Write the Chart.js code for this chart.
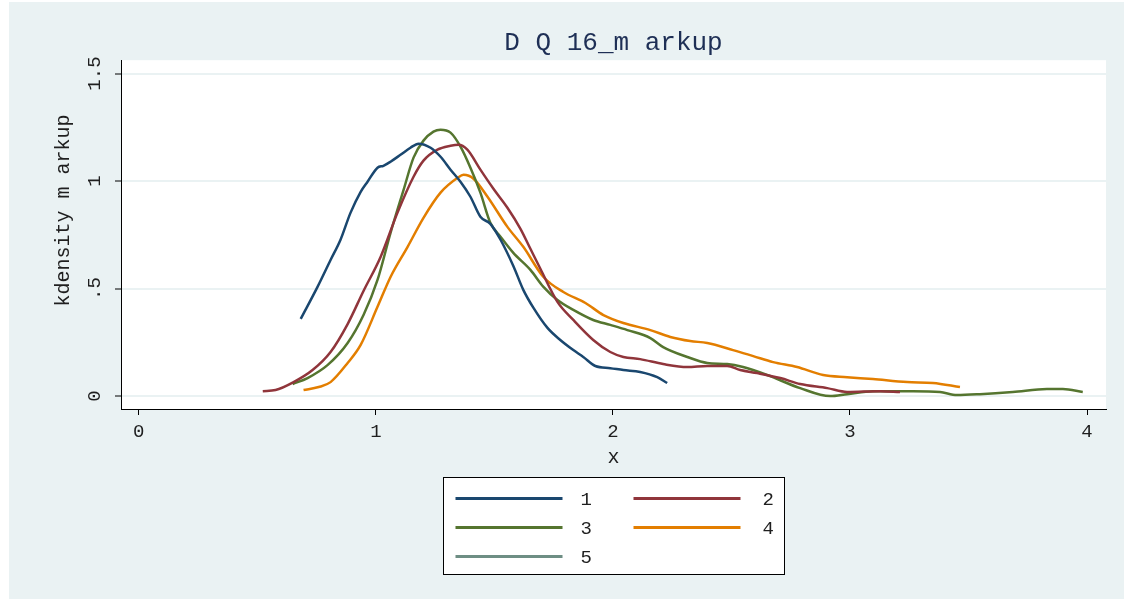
<!DOCTYPE html>
<html>
<head>
<meta charset="utf-8">
<title>kdensity markup</title>
<script src="https://cdn.jsdelivr.net/npm/chart.js@4.4.1/dist/chart.umd.min.js"></script>
<style>
  html, body { margin: 0; background: #fff; }
  #frame { position: absolute; left: 9px; top: 2px; width: 1115px; height: 597px; background: #eaf2f3; }
  canvas { display: block; }
</style>
</head>
<body>
<div id="frame"><canvas id="kdensityChart" width="1115" height="597"></canvas></div>
<script>
/*
  Kernel density of markup by group (1-5).
*/
const groupLabels = ["1", "2", "3", "4", "5"];
const groupColors = ["#1a476f", "#90353b", "#55752f", "#e37e00", "#6e8e84"];

const group1X = [0.683, 0.754, 0.809, 0.851, 0.893, 0.936, 0.965, 1.007, 1.032, 1.062, 1.104, 1.146, 1.180, 1.231, 1.273, 1.315, 1.357, 1.399, 1.441, 1.483, 1.526, 1.580, 1.622, 1.665, 1.724, 1.778, 1.833, 1.875, 1.926, 1.989, 2.044, 2.115, 2.187, 2.229];
const group1Y = [0.359, 0.508, 0.633, 0.727, 0.852, 0.950, 0.997, 1.062, 1.071, 1.090, 1.122, 1.155, 1.174, 1.155, 1.113, 1.053, 0.997, 0.927, 0.834, 0.801, 0.727, 0.605, 0.494, 0.410, 0.317, 0.261, 0.214, 0.182, 0.140, 0.130, 0.121, 0.112, 0.088, 0.061];

const group2X = [0.523, 0.577, 0.653, 0.733, 0.809, 0.881, 0.948, 1.020, 1.091, 1.159, 1.201, 1.260, 1.315, 1.349, 1.386, 1.441, 1.496, 1.555, 1.610, 1.652, 1.694, 1.766, 1.833, 1.917, 1.989, 2.044, 2.115, 2.212, 2.314, 2.398, 2.482, 2.537, 2.608, 2.706, 2.790, 2.904, 2.988, 3.127, 3.211];
const group2Y = [0.023, 0.028, 0.065, 0.121, 0.205, 0.335, 0.489, 0.647, 0.852, 1.020, 1.095, 1.146, 1.164, 1.169, 1.146, 1.053, 0.964, 0.876, 0.778, 0.685, 0.592, 0.438, 0.354, 0.261, 0.205, 0.182, 0.172, 0.149, 0.135, 0.140, 0.140, 0.121, 0.107, 0.084, 0.056, 0.037, 0.019, 0.023, 0.019];

const group3X = [0.649, 0.712, 0.796, 0.881, 0.948, 1.007, 1.062, 1.117, 1.159, 1.201, 1.243, 1.273, 1.315, 1.357, 1.399, 1.441, 1.483, 1.526, 1.580, 1.652, 1.707, 1.766, 1.833, 1.917, 1.989, 2.061, 2.158, 2.212, 2.314, 2.398, 2.482, 2.549, 2.651, 2.790, 2.916, 2.988, 3.097, 3.266, 3.380, 3.451, 3.548, 3.687, 3.831, 3.898, 3.982];
const group3Y = [0.056, 0.084, 0.144, 0.247, 0.377, 0.540, 0.759, 0.959, 1.109, 1.188, 1.230, 1.239, 1.225, 1.160, 1.062, 0.946, 0.806, 0.741, 0.666, 0.587, 0.508, 0.447, 0.401, 0.354, 0.331, 0.307, 0.270, 0.228, 0.182, 0.154, 0.149, 0.135, 0.098, 0.037, 0.000, 0.009, 0.023, 0.023, 0.019, 0.005, 0.009, 0.019, 0.033, 0.033, 0.019];

const group4X = [0.695, 0.759, 0.809, 0.881, 0.936, 1.007, 1.062, 1.134, 1.201, 1.273, 1.345, 1.370, 1.412, 1.471, 1.555, 1.622, 1.707, 1.791, 1.884, 1.960, 2.044, 2.158, 2.242, 2.326, 2.398, 2.507, 2.592, 2.676, 2.777, 2.887, 2.988, 3.097, 3.241, 3.350, 3.464];
const group4Y = [0.028, 0.042, 0.065, 0.154, 0.238, 0.415, 0.554, 0.694, 0.829, 0.946, 1.015, 1.029, 1.011, 0.927, 0.787, 0.694, 0.554, 0.484, 0.433, 0.377, 0.340, 0.307, 0.275, 0.256, 0.247, 0.214, 0.186, 0.158, 0.135, 0.098, 0.088, 0.079, 0.065, 0.061, 0.042];

// group 5 has no estimate, it only shows up in the legend
const group5X = [];
const group5Y = [];

const xTickValues = [0, 1, 2, 3, 4];
const yTickValues = [0, 0.5, 1, 1.5];
const yTickLabels = ["0", ".5", "1", "1.5"];

const groupsX = [group1X, group2X, group3X, group4X, group5X];
const groupsY = [group1Y, group2Y, group3Y, group4Y, group5Y];

const textColor = "#1f1f1f";

// white plot region on top of the light frame
const plotBackground = {
  id: "plotBackground",
  beforeDraw(chart) {
    const { ctx, chartArea } = chart;
    ctx.save();
    ctx.fillStyle = "#ffffff";
    ctx.fillRect(chartArea.left, chartArea.top, chartArea.right - chartArea.left, chartArea.bottom - chartArea.top);
    ctx.restore();
  },
};

// boxed two-column legend under the x axis
const legendBox = {
  id: "legendBox",
  afterDraw(chart) {
    const { ctx, chartArea } = chart;
    const boxW = 341;
    const boxH = 97;
    const cx = (chartArea.left + chartArea.right) / 2;
    const left = Math.round(cx - boxW / 2) + 0.5;
    const top = Math.round(chartArea.bottom + 68) + 0.5;

    ctx.save();
    ctx.fillStyle = "#ffffff";
    ctx.fillRect(left, top, boxW, boxH);
    ctx.strokeStyle = "#000000";
    ctx.lineWidth = 1;
    ctx.strokeRect(left, top, boxW, boxH);

    ctx.font = "19px 'Liberation Mono', monospace";
    ctx.textBaseline = "middle";
    ctx.textAlign = "left";
    chart.data.datasets.forEach((ds, i) => {
      const col = i % 2;
      const row = Math.floor(i / 2);
      const y = top + 21 + row * 29;
      const lineX = left + 12 + col * 178;
      ctx.strokeStyle = ds.borderColor;
      ctx.lineWidth = 3;
      ctx.beginPath();
      ctx.moveTo(lineX, y);
      ctx.lineTo(lineX + 107, y);
      ctx.stroke();
      ctx.fillStyle = textColor;
      ctx.fillText(ds.label, lineX + 125 + col * 4, y + 1);
    });
    ctx.restore();
  },
};

const datasets = groupLabels.map((label, i) => ({
  label,
  data: groupsX[i].map((x, j) => ({ x, y: groupsY[i][j] })),
  borderColor: groupColors[i],
  backgroundColor: groupColors[i],
  borderWidth: 2.5,
  pointRadius: 0,
  cubicInterpolationMode: "monotone",
  fill: false,
}));

Chart.defaults.font.family = "'Liberation Mono', monospace";
Chart.defaults.color = textColor;

new Chart(document.getElementById("kdensityChart"), {
  type: "line",
  data: { datasets },
  options: {
    responsive: false,
    animation: false,
    devicePixelRatio: 1,
    layout: { padding: { left: 0, right: 18, top: 0, bottom: 120 } },
    plugins: {
      legend: { display: false },
      tooltip: { enabled: false },
      title: {
        display: true,
        text: "D Q 16_m arkup",
        fullSize: false,
        color: "#1e2f55",
        font: { size: 26, weight: "normal" },
        padding: { top: 26, bottom: 1 },
      },
    },
    scales: {
      x: {
        type: "linear",
        min: -0.075,
        max: 4.08,
        afterFit: (scale) => { scale.height = 70; },
        afterBuildTicks: (scale) => { scale.ticks = xTickValues.map((value) => ({ value })); },
        ticks: { font: { size: 19 }, padding: 6, maxRotation: 0, callback: (value) => String(value) },
        grid: { drawOnChartArea: false, tickColor: "#000", tickLength: 6, tickWidth: 1 },
        border: { color: "#000", width: 1 },
        title: { display: true, text: "x", font: { size: 20 }, padding: { top: 0, bottom: 9 } },
      },
      y: {
        type: "linear",
        min: -0.06,
        max: 1.562,
        afterFit: (scale) => { scale.width = 112; },
        afterBuildTicks: (scale) => { scale.ticks = yTickValues.map((value) => ({ value })); },
        ticks: {
          font: { size: 19 },
          padding: 3,
          minRotation: 90,
          maxRotation: 90,
          crossAlign: "center",
          callback: (value, index) => yTickLabels[index],
        },
        grid: { color: "#eaf2f3", lineWidth: 2, tickColor: "#000", tickLength: 6, tickWidth: 1 },
        border: { color: "#000", width: 1 },
        title: { display: true, text: "    kdensity m arkup", font: { size: 20 }, padding: { top: 43, bottom: 0 } },
      },
    },
  },
  plugins: [plotBackground, legendBox],
});
</script>
</body>
</html>
